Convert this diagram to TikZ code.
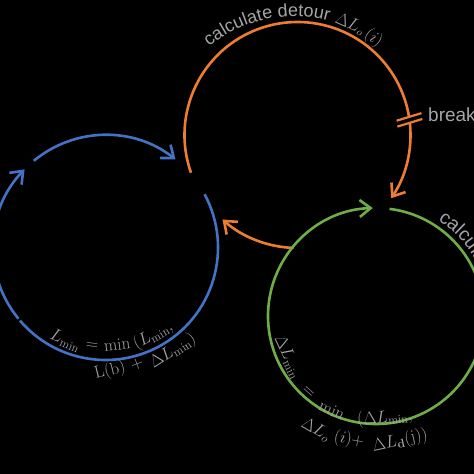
\documentclass[tikz,border=0pt]{standalone}
\usepackage[no-math]{fontspec}
\newfontfamily\arialf{Liberation Sans}
\usetikzlibrary{arrows.meta,decorations.text,calc}
\definecolor{orng}{RGB}{237,125,49}
\definecolor{blu}{RGB}{68,114,196}
\definecolor{grn}{RGB}{112,173,71}
\definecolor{txtgray}{RGB}{165,165,168}
\begin{document}
\begin{tikzpicture}[x=1pt,y=1pt,
  loopline/.style={line width=2.6pt},
  tipend/.style={-{Straight Barb[length=11pt,width=17pt,line width=2.6pt]}},
  ftxt/.style={text=txtgray, font=\fontsize{17}{17}\selectfont, inner sep=0pt},
  stxt/.style={text=txtgray, font=\arialf\fontsize{19}{19}\selectfont, inner sep=0pt}]
\fill[black] (0,0) rectangle (474,474);
\useasboundingbox (0,0) rectangle (474,474);
\clip (0,0) rectangle (474,474);
\coordinate (O) at (297.5,339);
\coordinate (B) at (105.5,226.5);
\coordinate (G) at (376,158);
\coordinate (T) at (294,324);
% orange loop
\draw[loopline,orng] ([shift={(199.5:113)}]O) arc[start angle=199.5,end angle=9.2,radius=113];
\draw[loopline,orng,tipend] ([shift={(6.2:113)}]O) arc[start angle=6.2,end angle=-34,radius=113];
\draw[orng,line width=2.2pt] ([shift={(9.2:113)}]O) ++(197:13) -- ++(17:26);
\draw[orng,line width=2.2pt] ([shift={(6.2:113)}]O) ++(197:13) -- ++(17:26);
\draw[loopline,orng,tipend] ([shift={(268:113)}]O) arc[start angle=268,end angle=228.4,radius=113];
% blue loop
\draw[loopline,blu,tipend] ([shift={(129.6:112.5)}]B) arc[start angle=129.6,end angle=51.5,radius=112.5];
\draw[loopline,blu] ([shift={(28.3:112.5)}]B) arc[start angle=28.3,end angle=-139.5,radius=112.5];
\draw[loopline,blu,tipend] ([shift={(219.3:112.5)}]B) arc[start angle=219.3,end angle=136,radius=112.5];
% green loop
\draw[loopline,grn,tipend] ([shift={(82.8:108)}]G) arc[start angle=82.8,end angle=-268.3,radius=108];
% orange labels
\path[decorate,decoration={text along path,text color=txtgray,
  text={|\arialf\fontsize{18}{18}\selectfont|calculate detour}}]
  ([shift={(129.5:133.5)}]T) arc[start angle=129.5,end angle=60,radius=133.5];
\node[ftxt,font=\fontsize{16}{16}\selectfont,rotate=-24] (oa) at ([shift={(65.9:137.5)}]T) {$\Delta L_o$};
\node[ftxt,font=\fontsize{16}{16}\selectfont,rotate=-35] (ob) at ([shift={(54.6:137)}]T) {$(i)$};
\node[stxt,anchor=base west] (brk) at (428,352) {break};
% green label
\path[decorate,decoration={text along path,text color=txtgray,
  text={|\arialf\fontsize{19}{19}\selectfont|calculate}}]
  ([shift={(57:114)}]G) arc[start angle=57,end angle=-30,radius=114];
% blue formula
\node[ftxt,rotate=-22.7] (b1) at ([shift={(246.7:101)}]B) {$L_{\min}$};
\node[ftxt,rotate=-7.7] (b2) at ([shift={(262.2:100)}]B) {$=$};
\node[ftxt,rotate=6.7] (b3) at ([shift={(276.8:98)}]B) {$\min$};
\node[ftxt,rotate=29] (b4) at ([shift={(298.5:100)}]B) {$(L_{\min},$};
\node[ftxt,rotate=14] (b5) at (110,103) {$\mathrm{L(b)}$};
\node[ftxt,rotate=20] (b6) at (137,110) {$+$};
\node[ftxt,rotate=33] (b7) at (173,123) {$\Delta L_{\min})$};
% green formula
\node[ftxt,rotate=-65] (g1) at ([shift={(205:97)}]G) {$\Delta L_{\min}$};
\node[ftxt,rotate=-41.8] (g2) at ([shift={(228.2:102)}]G) {$=$};
\node[ftxt,rotate=-25] (g3) at ([shift={(244.9:103.8)}]G) {$\min$};
\node[ftxt,rotate=5] (g4) at ([shift={(275:102.4)}]G) {$(\Delta L_{\min},$};
\node[ftxt,rotate=-30] (g5) at (316,44) {$\Delta L_o$};
\node[ftxt,rotate=-10] (g6) at (349,34) {$(i)+$};
\node[ftxt,rotate=12] (g7) at (400,33) {$\Delta L_{\mathbf{d}}(\mathrm{j}))$};
\end{tikzpicture}
\end{document}
